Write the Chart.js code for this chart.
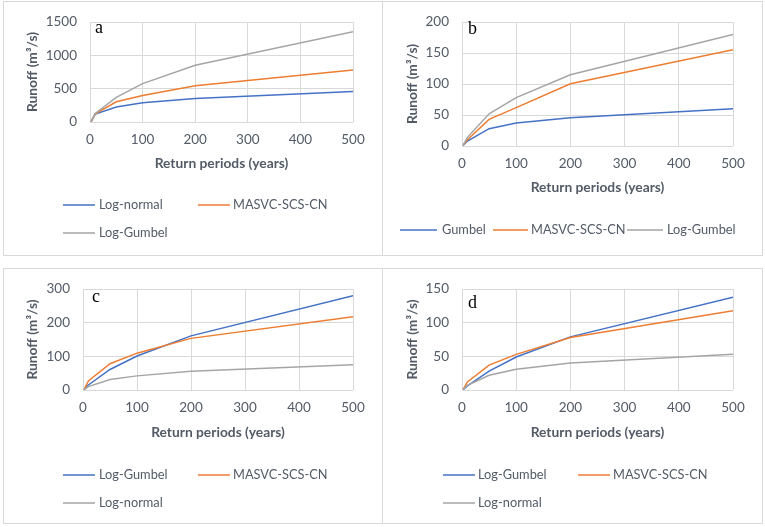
<!DOCTYPE html>
<html><head><meta charset="utf-8">
<script src="https://cdn.jsdelivr.net/npm/chart.js@4.4.0/dist/chart.umd.min.js"></script>
<style>
body{margin:0;background:#fff;width:765px;height:527px;position:relative;overflow:hidden}
.box{position:absolute;border:1px solid #d9d9d9;box-sizing:border-box}
canvas{position:absolute}
</style></head><body>
<div class="box" style="left:3px;top:1px;width:380px;height:255px"></div>
<div class="box" style="left:382px;top:1px;width:381px;height:255px"></div>
<div class="box" style="left:3px;top:268px;width:380px;height:256px"></div>
<div class="box" style="left:382px;top:268px;width:381px;height:256px"></div>
<canvas id="ca"></canvas><canvas id="cb"></canvas><canvas id="cc"></canvas><canvas id="cd"></canvas>
<script>
// ---- data ----
const returnPeriods = [2, 10, 50, 100, 200, 500];
const xTicks = [0, 100, 200, 300, 400, 500];

const aLabels = ['Log-normal', 'MASVC-SCS-CN', 'Log-Gumbel'];
const aLogNormal = [5, 118, 226, 288, 351, 457];
const aMasvc = [5, 122, 303, 399, 543, 779];
const aLogGumbel = [5, 128, 370, 577, 851, 1356];
const aYTicks = [0, 500, 1000, 1500];

const bLabels = ['Gumbel', 'MASVC-SCS-CN', 'Log-Gumbel'];
const bGumbel = [1, 8, 28, 37, 45.5, 60];
const bMasvc = [1, 10, 43, 62, 100.5, 155.5];
const bLogGumbel = [1, 14, 52, 78, 115, 180];
const bYTicks = [0, 50, 100, 150, 200];

const cLabels = ['Log-Gumbel', 'MASVC-SCS-CN', 'Log-normal'];
const cLogGumbel = [1, 15, 61, 101, 161, 280];
const cMasvc = [1, 27, 78, 109.5, 153.5, 218];
const cLogNormal = [1, 10, 31, 42, 56, 75];
const cYTicks = [0, 100, 200, 300];

const dLabels = ['Log-Gumbel', 'MASVC-SCS-CN', 'Log-normal'];
const dLogGumbel = [0.5, 6, 28, 49, 79, 138];
const dMasvc = [0.5, 12, 37, 53, 78, 118];
const dLogNormal = [0.5, 7, 22, 31, 40, 53];
const dYTicks = [0, 50, 100, 150];

const colors = ['#4472C4', '#ED7D31', '#A5A5A5'];
const TXT = '#535b66';
const FONT = 'Lato, "Liberation Sans", sans-serif';

function toPts(ys) { return returnPeriods.map((x, i) => ({x: x, y: ys[i]})); }

function panel(id, box, plot, yTicks, labels, series, letter, letterPos, legend, yTitleX, xTitleY) {
  const cv = document.getElementById(id);
  cv.width = box.w; cv.height = box.h;
  cv.style.left = box.x + 'px'; cv.style.top = box.y + 'px';
  const TS = 13.8;
  const LH = TS * 1.2;
  const padL = yTitleX - box.x - LH / 2;
  const yW = plot.L - box.x - padL;
  const xH = xTitleY - plot.B + LH / 2;
  const padT = plot.T - box.y;
  const padR = box.x + box.w - plot.R;
  const padB = box.y + box.h - plot.B - xH;
  const yMax = yTicks[yTicks.length - 1];
  const extras = {
    id: 'extras_' + id,
    afterDraw(chart) {
      const ctx = chart.ctx;
      ctx.save();
      chart.data.datasets.forEach((ds, i) => {
        const it = legend[i];
        ctx.strokeStyle = ds.borderColor;
        ctx.lineWidth = 1.5;
        ctx.beginPath();
        ctx.moveTo(it.lx - box.x, it.ly - box.y);
        ctx.lineTo(it.lx + it.len - box.x, it.ly - box.y);
        ctx.stroke();
        ctx.fillStyle = TXT;
        ctx.font = '12.8px ' + FONT;
        ctx.textBaseline = 'middle';
        ctx.textAlign = 'left';
        ctx.fillText(ds.label, it.tx - box.x, it.ly - box.y);
      });
      ctx.fillStyle = '#000';
      ctx.font = '18px "Liberation Serif", "Times New Roman", serif';
      ctx.textBaseline = 'alphabetic';
      ctx.fillText(letter, letterPos.x - box.x, letterPos.y - box.y);
      ctx.restore();
    }
  };
  new Chart(cv, {
    type: 'line',
    data: {
      datasets: series.map((s, i) => ({
        label: labels[i], data: toPts(s), borderColor: colors[i], backgroundColor: colors[i],
        borderWidth: 1.5, pointRadius: 0, tension: 0, fill: false, order: 3 - i
      }))
    },
    options: {
      responsive: false, animation: false,
      layout: {padding: {left: padL, top: padT, right: padR, bottom: padB}},
      plugins: {legend: {display: false}, tooltip: {enabled: false}},
      scales: {
        x: {
          type: 'linear', min: 0, max: 500,
          afterBuildTicks: (s) => { s.ticks = xTicks.map(v => ({value: v})); },
          afterFit: (s) => { s.height = xH; },
          ticks: {color: TXT, font: {family: FONT, size: 13.5}, padding: 10, maxRotation: 0,
                  callback: (v) => String(v)},
          grid: {color: '#d9d9d9', drawTicks: false, lineWidth: 1},
          border: {display: false},
          title: {display: true, text: 'Return periods (years)', color: TXT,
                  font: {family: FONT, size: TS, weight: 'bold', lineHeight: 1.2}, padding: 0}
        },
        y: {
          min: 0, max: yMax,
          afterBuildTicks: (s) => { s.ticks = yTicks.map(v => ({value: v})); },
          afterFit: (s) => { s.width = yW; },
          ticks: {color: TXT, font: {family: FONT, size: 13.5}, padding: 13,
                  callback: (v) => String(v)},
          grid: {color: '#d9d9d9', drawTicks: false, lineWidth: 1},
          border: {display: false},
          title: {display: true, text: 'Runoff (m³/s)', color: TXT,
                  font: {family: FONT, size: TS, weight: 'bold', lineHeight: 1.2}, padding: 0}
        }
      }
    },
    plugins: [extras]
  });
}

panel('ca', {x: 3, y: 1, w: 380, h: 255}, {L: 90, T: 18, R: 353, B: 122}, aYTicks, aLabels,
  [aLogNormal, aMasvc, aLogGumbel], 'a', {x: 95, y: 33},
  [{lx: 63, ly: 205, len: 32, tx: 99}, {lx: 198, ly: 205, len: 32, tx: 233}, {lx: 63, ly: 233, len: 32, tx: 99}],
  33, 164);
panel('cb', {x: 382, y: 1, w: 381, h: 255}, {L: 462, T: 18, R: 733, B: 146}, bYTicks, bLabels,
  [bGumbel, bMasvc, bLogGumbel], 'b', {x: 468, y: 34},
  [{lx: 400, ly: 230, len: 37, tx: 442}, {lx: 493, ly: 230, len: 35, tx: 531}, {lx: 627, ly: 230, len: 36, tx: 667}],
  413, 188);
panel('cc', {x: 3, y: 268, w: 380, h: 256}, {L: 83, T: 288, R: 353, B: 390}, cYTicks, cLabels,
  [cLogGumbel, cMasvc, cLogNormal], 'c', {x: 92, y: 302},
  [{lx: 63, ly: 475, len: 32, tx: 99}, {lx: 198, ly: 475, len: 32, tx: 233}, {lx: 63, ly: 503, len: 32, tx: 99}],
  33, 433);
panel('cd', {x: 382, y: 268, w: 381, h: 256}, {L: 462, T: 288, R: 733, B: 390}, dYTicks, dLabels,
  [dLogGumbel, dMasvc, dLogNormal], 'd', {x: 468, y: 308},
  [{lx: 443, ly: 475, len: 32, tx: 478}, {lx: 578, ly: 475, len: 32, tx: 613}, {lx: 443, ly: 503, len: 32, tx: 478}],
  413, 433);
</script>
</body></html>
